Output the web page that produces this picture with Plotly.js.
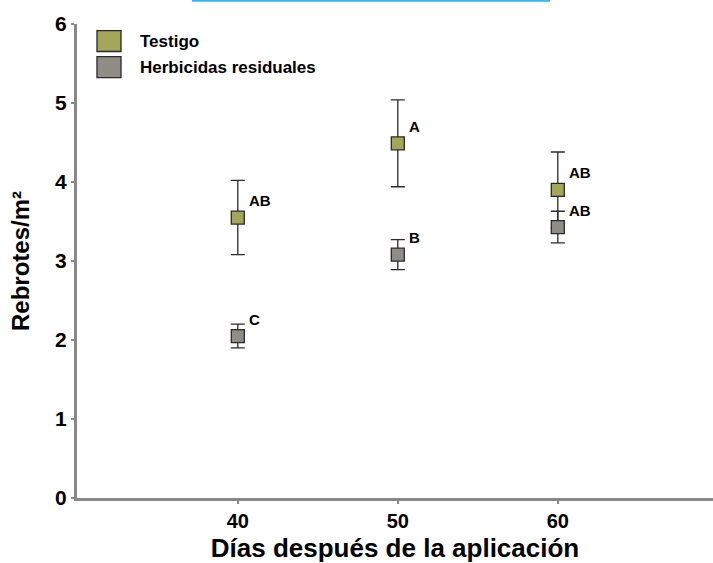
<!DOCTYPE html>
<html>
<head>
<meta charset="utf-8">
<script src="https://cdn.plot.ly/plotly-3.0.1.min.js"></script>
<style>html,body{margin:0;padding:0;background:#fff;}#chart{width:713px;height:563px;}</style>
</head>
<body>
<div id="chart"></div>
<script>
// Data
var days = [40, 50, 60];
var seriesNames = ['Testigo', 'Herbicidas residuales'];
var testigo = [3.55, 4.49, 3.90];
var testigoErr = [0.47, 0.55, 0.48];
var herb = [2.05, 3.08, 3.43];
var herbErr = [0.15, 0.19, 0.20];
var testigoLetters = ['AB', 'A', 'AB'];
var herbLetters = ['C', 'B', 'AB'];
var xTicks = [40, 50, 60];
var yTicks = [0, 1, 2, 3, 4, 5, 6];

var colTestigo = '#a4a65b';
var colHerb = '#8f8d86';
var font = 'Liberation Sans, Arial, sans-serif';

function trace(name, y, err, color) {
  return {
    type: 'scatter', mode: 'markers', name: name,
    x: days, y: y,
    error_y: {type: 'data', array: err, visible: true, color: '#2a2a2a', thickness: 1.3, width: 7},
    marker: {symbol: 'square', size: 13, color: color, line: {color: '#2a2a2a', width: 1.3}},
    showlegend: false, hoverinfo: 'x+y'
  };
}

var data = [
  trace(seriesNames[0], testigo, testigoErr, colTestigo),
  trace(seriesNames[1], herb, herbErr, colHerb)
];

var annotations = [];
function addLetters(y, letters) {
  for (var i = 0; i < days.length; i++) {
    annotations.push({
      x: days[i], y: y[i], xref: 'x', yref: 'y', text: '<b>' + letters[i] + '</b>',
      showarrow: false, xanchor: 'left', yanchor: 'middle', xshift: 9, yshift: 17,
      font: {family: font, size: 15, color: '#000'}
    });
  }
}
addLetters(testigo, testigoLetters);
addLetters(herb, herbLetters);

// manual legend
var legendY = [0.964, 0.909];
var legendCols = [colTestigo, colHerb];
var shapes = [];
for (var k = 0; k < seriesNames.length; k++) {
  shapes.push({
    type: 'rect', xref: 'paper', yref: 'paper',
    x0: 0.0314, x1: 0.0692, y0: legendY[k] - 0.022, y1: legendY[k] + 0.022,
    fillcolor: legendCols[k], line: {color: '#2a2a2a', width: 1.3}
  });
  annotations.push({
    x: 0.0959, y: legendY[k], xref: 'paper', yref: 'paper', text: '<b>' + seriesNames[k] + '</b>',
    showarrow: false, xanchor: 'left', yanchor: 'middle',
    font: {family: font, size: 17, color: '#000'}
  });
}
// cyan line at the top
shapes.push({
  type: 'line', xref: 'paper', yref: 'paper',
  x0: (192 - 77) / 636, x1: (550 - 77) / 636, y0: (498 - 0.8) / 474, y1: (498 - 0.8) / 474,
  line: {color: '#35b5e8', width: 2}
});

var layout = {
  width: 713, height: 563,
  margin: {l: 77, r: 0, t: 24, b: 65, pad: 0},
  paper_bgcolor: '#fff', plot_bgcolor: '#fff',
  font: {family: font, color: '#000'},
  xaxis: {
    range: [29.95, 69.7], tickvals: xTicks, ticktext: xTicks.map(function(v){return '<b>' + v + '</b>';}),
    showgrid: false, zeroline: false, showline: true, linecolor: '#888', linewidth: 3,
    ticks: 'outside', ticklen: 3, tickwidth: 2, tickcolor: '#888',
    tickfont: {family: font, size: 20, color: '#000'},
    title: {text: '<b>Días después de la aplicación</b>', font: {family: font, size: 26, color: '#000'}, standoff: 8}
  },
  yaxis: {
    range: [0, 6], tickvals: yTicks, ticktext: yTicks.map(function(v){return '<b>' + v + '</b>';}),
    showgrid: false, zeroline: false, showline: true, linecolor: '#888', linewidth: 3,
    ticks: 'outside', ticklen: 3, tickwidth: 2, tickcolor: '#888',
    tickfont: {family: font, size: 21, color: '#000'},
    title: {text: '<b>Rebrotes/m²</b>', font: {family: font, size: 24, color: '#000'}, standoff: 19}
  },
  annotations: annotations,
  shapes: shapes,
  showlegend: false
};

Plotly.newPlot('chart', data, layout, {displayModeBar: false, staticPlot: true});
</script>
</body>
</html>
